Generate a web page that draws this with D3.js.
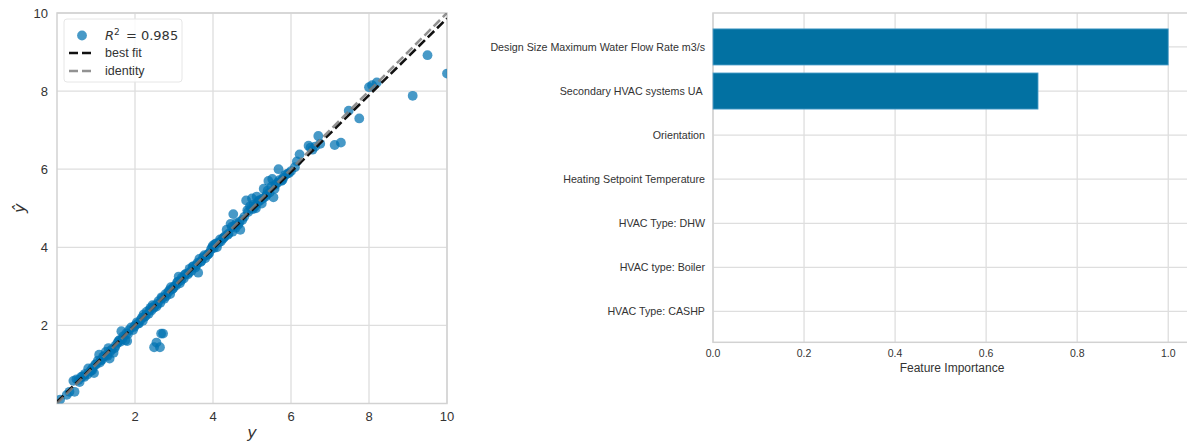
<!DOCTYPE html>
<html>
<head>
<meta charset="utf-8">
<script src="https://cdn.jsdelivr.net/npm/d3@7/dist/d3.min.js"></script>
<style>
  body { margin: 0; background: #fff; }
  svg { display: block; }
  text { font-family: "Liberation Sans", Arial, sans-serif; fill: #333; }
</style>
</head>
<body>
<svg id="chart" width="1187" height="441"></svg>
<script>
// Prediction error: actual (y) vs predicted (ŷ)
const actual = [0.08,0.25,0.32,0.45,0.42,0.5,0.55,0.62,0.7,0.72,0.78,0.8,0.85,0.9,0.92,0.95,1.0,1.05,1.08,1.1,1.15,1.2,1.25,1.3,1.32,1.35,1.4,1.45,1.5,1.55,1.6,1.62,1.65,1.7,1.75,1.78,1.8,1.85,1.9,1.95,2.0,2.05,2.1,2.15,2.2,2.22,2.25,2.3,2.35,2.4,2.42,2.45,2.5,2.55,2.6,2.65,2.7,2.75,2.78,2.8,2.85,2.9,2.92,2.95,3.0,3.05,3.1,3.12,3.15,3.2,3.25,3.3,3.35,3.4,3.45,3.5,3.55,3.6,3.62,3.65,3.7,3.75,3.8,3.85,3.9,3.95,4.0,4.02,4.05,4.1,4.15,4.2,4.25,4.3,4.35,4.4,4.45,4.48,4.5,4.52,4.55,4.6,4.65,4.7,4.75,4.8,4.85,4.88,4.9,4.95,5.0,5.02,5.05,5.1,5.12,5.15,5.2,5.25,5.3,5.35,5.4,5.42,5.45,5.5,5.52,5.55,5.6,5.65,5.68,5.7,5.75,5.8,5.85,5.9,6.0,6.1,6.15,6.22,6.45,6.5,6.7,6.75,7.12,7.28,7.48,7.75,8.0,8.08,8.2,9.12,9.5,10.0,2.49,2.64,2.55,2.67,2.72,
  0.58,0.66,0.88,0.98,1.12,1.18,1.28,1.38,1.48,1.58,1.68,1.82,1.98,2.08,2.18,2.28,2.38,2.48,2.58,2.68,2.88,2.98,3.08,3.18,3.28,3.38,3.48,3.58,3.68,3.78,3.88,3.98,4.08,4.18,4.28,4.38,4.58,4.68,4.98,5.08,5.18,5.28,5.38,5.58,5.78,5.95,6.55,6.62];
const predicted = [0.1,0.22,0.3,0.3,0.58,0.62,0.6,0.68,0.68,0.76,0.74,0.9,0.82,0.85,0.92,0.78,1.0,1.1,1.25,1.05,1.12,1.2,1.32,1.22,1.42,1.15,1.38,1.3,1.48,1.55,1.62,1.58,1.85,1.72,1.62,1.8,1.6,1.88,1.95,1.88,2.0,2.08,2.05,2.15,2.12,2.28,2.22,2.35,2.3,2.45,2.38,2.52,2.5,2.48,2.62,2.58,2.7,2.68,2.8,2.75,2.85,2.8,2.98,2.92,3.0,3.02,3.12,3.25,3.08,3.22,3.2,3.32,3.3,3.45,3.4,3.52,3.48,3.6,3.35,3.7,3.65,3.75,3.72,3.8,3.85,3.95,4.05,3.98,4.08,4.0,4.12,4.15,4.22,4.28,4.45,4.35,4.6,4.52,4.4,4.85,4.55,4.62,4.58,4.45,4.7,4.78,5.2,4.95,4.9,5.05,5.25,4.98,5.1,5.0,5.3,5.15,5.2,5.12,5.5,5.3,5.45,5.7,5.4,5.55,5.75,5.28,5.6,5.65,6.0,5.72,5.7,5.78,5.85,5.88,5.95,6.05,6.2,6.38,6.6,6.55,6.85,6.65,6.62,6.68,7.5,7.3,8.1,8.15,8.22,7.88,8.92,8.45,1.44,1.44,1.56,1.79,1.79,
  0.55,0.7,0.86,1.0,1.1,1.2,1.25,1.35,1.42,1.6,1.65,1.78,1.96,2.05,2.2,2.25,2.4,2.45,2.55,2.72,2.9,2.95,3.1,3.15,3.3,3.35,3.5,3.55,3.62,3.8,3.82,4.0,4.1,4.2,4.25,4.32,4.5,4.65,5.0,5.05,5.2,5.25,5.35,5.5,5.72,5.9,6.5,6.58];
const fitLine = [[0, 0.04], [10, 9.86]];
const identityLine = [[0, 0], [10, 10]];
const r2Value = 0.985;
const scatterTicks = [2, 4, 6, 8, 10];

// Feature importances
const features = ["Design Size Maximum Water Flow Rate m3/s", "Secondary HVAC systems UA ", "Orientation", "Heating Setpoint Temperature", "HVAC Type: DHW", "HVAC type: Boiler", "HVAC Type: CASHP"];
const importances = [1.0, 0.714, 0, 0, 0, 0, 0];
const importanceTicks = [0.0, 0.2, 0.4, 0.6, 0.8, 1.0];

const svg = d3.select("#chart");
const gridColor = "#dedede";
const spineColor = "#d2d2d2";
const pointColor = "#0072B2";

// ---------- Left panel: prediction error ----------
const L = { left: 57, right: 447, top: 13, bottom: 403.5 };
const x = d3.scaleLinear().domain([0, 10]).range([L.left, L.right]);
const y = d3.scaleLinear().domain([0, 10]).range([L.bottom, L.top]);
const left = svg.append("g");

svg.append("clipPath").attr("id", "clipL")
  .append("rect").attr("x", L.left).attr("y", L.top)
  .attr("width", L.right - L.left).attr("height", L.bottom - L.top);

// grid
left.append("g").selectAll("line").data(scatterTicks).join("line")
  .attr("x1", d => x(d)).attr("x2", d => x(d))
  .attr("y1", L.top).attr("y2", L.bottom)
  .attr("stroke", gridColor).attr("stroke-width", 1.3);
left.append("g").selectAll("line").data(scatterTicks).join("line")
  .attr("y1", d => y(d)).attr("y2", d => y(d))
  .attr("x1", L.left).attr("x2", L.right)
  .attr("stroke", gridColor).attr("stroke-width", 1.3);

// frame
left.append("rect").attr("x", L.left).attr("y", L.top)
  .attr("width", L.right - L.left).attr("height", L.bottom - L.top)
  .attr("fill", "none").attr("stroke", spineColor).attr("stroke-width", 1.5);

const plotL = left.append("g").attr("clip-path", "url(#clipL)");
plotL.selectAll("circle").data(actual.map((a, i) => [a, predicted[i]])).join("circle")
  .attr("cx", d => x(d[0])).attr("cy", d => y(d[1])).attr("r", 4.9)
  .attr("fill", pointColor).attr("fill-opacity", 0.72);

const line = d3.line().x(d => x(d[0])).y(d => y(d[1]));
plotL.append("path").attr("d", line(fitLine))
  .attr("fill", "none").attr("stroke", "#111").attr("stroke-width", 2.6)
  .attr("stroke-dasharray", "9,4");
plotL.append("path").attr("d", line(identityLine))
  .attr("fill", "none").attr("stroke", "#7f7f7f").attr("stroke-opacity", 0.85)
  .attr("stroke-width", 2.6).attr("stroke-dasharray", "9,4");

// tick labels
left.append("g").selectAll("text").data(scatterTicks).join("text")
  .attr("x", d => x(d)).attr("y", L.bottom + 17)
  .attr("text-anchor", "middle").attr("font-size", 13).attr("fill", "#444")
  .text(d => d);
left.append("g").selectAll("text").data(scatterTicks).join("text")
  .attr("x", L.left - 9).attr("y", d => y(d) + 4.5)
  .attr("text-anchor", "end").attr("font-size", 13).attr("fill", "#444")
  .text(d => d);

// axis labels
left.append("text").attr("x", (L.left + L.right) / 2).attr("y", 438)
  .attr("text-anchor", "middle").attr("font-size", 16)
  .style("font-family", "'DejaVu Sans', sans-serif").style("font-style", "italic")
  .attr("fill", "#444").text("y");
left.append("text").attr("transform", `translate(25,${(L.top + L.bottom) / 2}) rotate(-90)`)
  .attr("text-anchor", "middle").attr("font-size", 16)
  .style("font-family", "'DejaVu Sans', sans-serif").style("font-style", "italic")
  .attr("fill", "#444").text("ŷ");

// legend
const lg = left.append("g");
lg.append("rect").attr("x", 64).attr("y", 19).attr("width", 118).attr("height", 63)
  .attr("rx", 3).attr("fill", "#fff").attr("fill-opacity", 0.85)
  .attr("stroke", "#e6e6e6").attr("stroke-width", 1);
lg.append("circle").attr("cx", 82).attr("cy", 35.5).attr("r", 4.9)
  .attr("fill", pointColor).attr("fill-opacity", 0.72);
const r2 = lg.append("text").attr("x", 105).attr("y", 40).attr("font-size", 13)
  .style("font-family", "'DejaVu Sans', sans-serif").attr("fill", "#333");
r2.append("tspan").style("font-style", "italic").text("R");
r2.append("tspan").attr("dy", -5).attr("font-size", 9).text("2");
r2.append("tspan").attr("dy", 5).attr("dx", 2).text(" = " + r2Value.toFixed(3));
lg.append("line").attr("x1", 69).attr("x2", 92).attr("y1", 53).attr("y2", 53)
  .attr("stroke", "#111").attr("stroke-width", 2.6).attr("stroke-dasharray", "9,4");
lg.append("text").attr("x", 105).attr("y", 57).attr("font-size", 12.5).text("best fit");
lg.append("line").attr("x1", 69).attr("x2", 92).attr("y1", 71).attr("y2", 71)
  .attr("stroke", "#7f7f7f").attr("stroke-opacity", 0.85).attr("stroke-width", 2.6)
  .attr("stroke-dasharray", "9,4");
lg.append("text").attr("x", 105).attr("y", 75).attr("font-size", 12.5).text("identity");

// ---------- Right panel: feature importances ----------
const R = { left: 713, right: 1191, top: 13, bottom: 342.3 };
const xr = d3.scaleLinear().domain([0, 1.05]).range([R.left, R.right]);
const yr = d3.scaleLinear().domain([-0.77, features.length - 0.3]).range([R.top, R.bottom]);
const right = svg.append("g");

right.append("g").selectAll("line").data(importanceTicks).join("line")
  .attr("x1", d => xr(d)).attr("x2", d => xr(d))
  .attr("y1", R.top).attr("y2", R.bottom)
  .attr("stroke", gridColor).attr("stroke-width", 1.3);
right.append("g").selectAll("line").data(features).join("line")
  .attr("y1", (d, i) => yr(i)).attr("y2", (d, i) => yr(i))
  .attr("x1", R.left).attr("x2", R.right)
  .attr("stroke", gridColor).attr("stroke-width", 1.3);
right.append("rect").attr("x", R.left).attr("y", R.top)
  .attr("width", R.right - R.left).attr("height", R.bottom - R.top)
  .attr("fill", "none").attr("stroke", spineColor).attr("stroke-width", 1.5);

const barH = yr(0.41) - yr(-0.41);
right.append("g").selectAll("rect").data(importances).join("rect")
  .attr("x", xr(0)).attr("y", (d, i) => yr(i) - barH / 2)
  .attr("width", d => xr(d) - xr(0)).attr("height", barH)
  .attr("fill", "#0271a2").attr("stroke", "#5aa6cf").attr("stroke-width", 0.8);

right.append("g").selectAll("text").data(features).join("text")
  .attr("x", R.left - 8).attr("y", (d, i) => yr(i) + 4)
  .attr("text-anchor", "end").attr("font-size", 10.7).attr("fill", "#333")
  .style("white-space", "pre").text(d => d);
right.append("g").selectAll("text").data(importanceTicks).join("text")
  .attr("x", d => xr(d)).attr("y", R.bottom + 15)
  .attr("text-anchor", "middle").attr("font-size", 10.5).attr("fill", "#444")
  .text(d => d.toFixed(1));
right.append("text").attr("x", xr(0.525)).attr("y", 372)
  .attr("text-anchor", "middle").attr("font-size", 12).attr("fill", "#333")
  .text("Feature Importance");
</script>
</body>
</html>
